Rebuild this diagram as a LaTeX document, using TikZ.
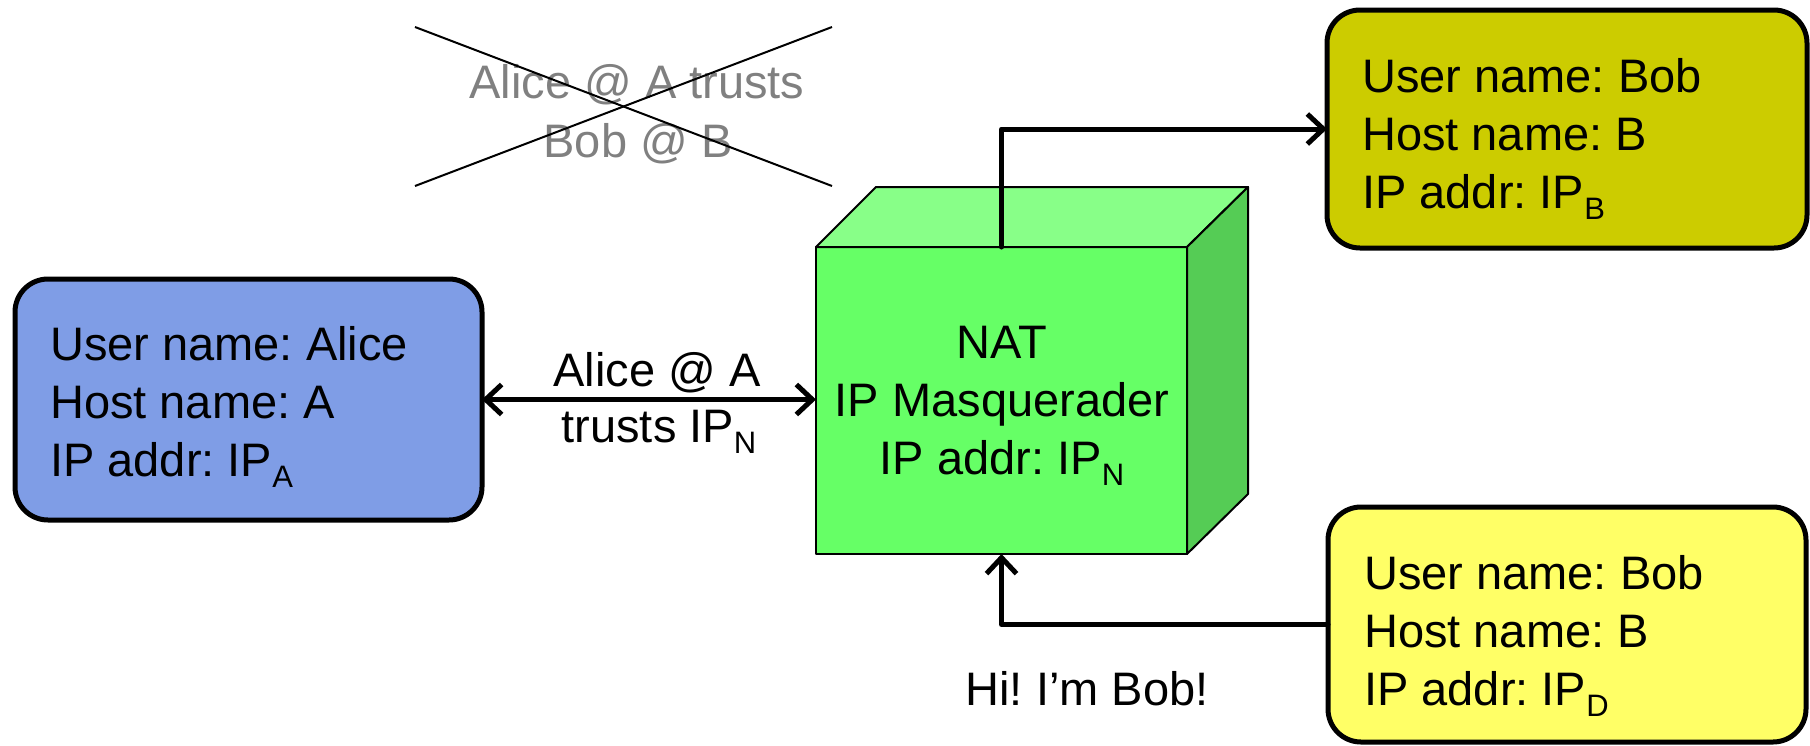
\documentclass[tikz,border=0pt]{standalone}
\usepackage{fontspec}
\setmainfont{Liberation Sans}
\frenchspacing
\usetikzlibrary{arrows.meta}
\definecolor{boxblue}{RGB}{127,157,230}
\definecolor{boxolive}{RGB}{204,204,0}
\definecolor{boxyellow}{RGB}{255,255,102}
\definecolor{cubefront}{RGB}{102,255,102}
\definecolor{cubetop}{RGB}{136,255,136}
\definecolor{cubeside}{RGB}{85,204,85}
\definecolor{oldgray}{RGB}{128,128,128}
\newcommand\subidx[1]{\raisebox{-11pt}{\fontsize{31}{31}\selectfont #1}}
\begin{document}
\begin{tikzpicture}[x=1pt,y=-1pt,
  hostbox/.style={draw, line width=5pt, rounded corners=33pt,
    inner sep=0pt, outer sep=0pt},
  hosttext/.style={align=left, inner sep=0pt, anchor=base west,
    font=\fontsize{47}{58}\selectfont},
  cubeface/.style={draw, line width=2pt, line join=round},
  conn/.style={line width=5pt, line cap=round, line join=round,
    -{Straight Barb[length=16pt,width=30pt]}},
  biconn/.style={line width=5pt, line cap=round, line join=round,
    {Straight Barb[length=16pt,width=30pt]}-{Straight Barb[length=16pt,width=30pt]}},
  lbl/.style={font=\fontsize{47}{58}\selectfont, inner sep=0pt, anchor=base},
  oldlbl/.style={lbl, text=oldgray},
  crossline/.style={line width=2pt}
]
\useasboundingbox (0,0) rectangle (1810,745);

% hosts (text anchors are at the baseline of the last line)
\node[hostbox, fill=boxblue, minimum width=467pt, minimum height=241pt] (alice) at (248.5,399.5) {};
\node[hosttext] (alicetxt) at (50,476)
  {User name: Alice\\Host name: A\\IP addr: IP\subidx{A}};
\node[hostbox, fill=boxolive, minimum width=480pt, minimum height=238pt] (bobB) at (1567,129) {};
\node[hosttext] (bobBtxt) at (1362,208)
  {User name: Bob\\Host name: B\\IP addr: IP\subidx{B}};
\node[hostbox, fill=boxyellow, minimum width=478pt, minimum height=235pt] (bobD) at (1567,624.5) {};
\node[hosttext] (bobDtxt) at (1364,705)
  {User name: Bob\\Host name: B\\IP addr: IP\subidx{D}};

% NAT cube
\node[cubeface, fill=cubefront, minimum width=371pt, minimum height=307pt, outer sep=0pt,
  inner sep=0pt] (nat) at (1001.5,400.5) {};
\draw[cubeface, fill=cubetop] (nat.north west) -- ++(60,-60)
  -- ([shift={(61,-60)}]nat.north east) -- (nat.north east) -- cycle;
\draw[cubeface, fill=cubeside] (nat.north east) -- ++(61,-60)
  -- ([shift={(61,-60)}]nat.south east) -- (nat.south east) -- cycle;
\node[lbl, align=center] (nattxt) at (1002,474)
  {NAT\\IP Masquerader\\IP addr: IP\subidx{N}};

% crossed-out claim
\node[oldlbl] (old1) at (637,98) {Alice @ A trusts};
\node[oldlbl] (old2) at (638,157) {Bob @ B};
\coordinate (xa) at (415,27);
\coordinate (xb) at (832,186);
\coordinate (xc) at (415,186);
\coordinate (xd) at (832,27);
\draw[crossline] (xa) -- (xb);
\draw[crossline] (xc) -- (xd);

% connectors
\draw[biconn] (alice.east) -- (alice.east -| nat.west);
\node[lbl] (trust1) at (657,386) {Alice @ A};
\node[lbl] (trust2) at (659,442) {trusts IP\subidx{N}};

\draw[conn] (nat.north) |- (bobB.west);
\draw[conn] (bobD.west) -| (nat.south);
\node[lbl] (hi) at (1087,705) {Hi! I’m Bob!};
\end{tikzpicture}
\end{document}
